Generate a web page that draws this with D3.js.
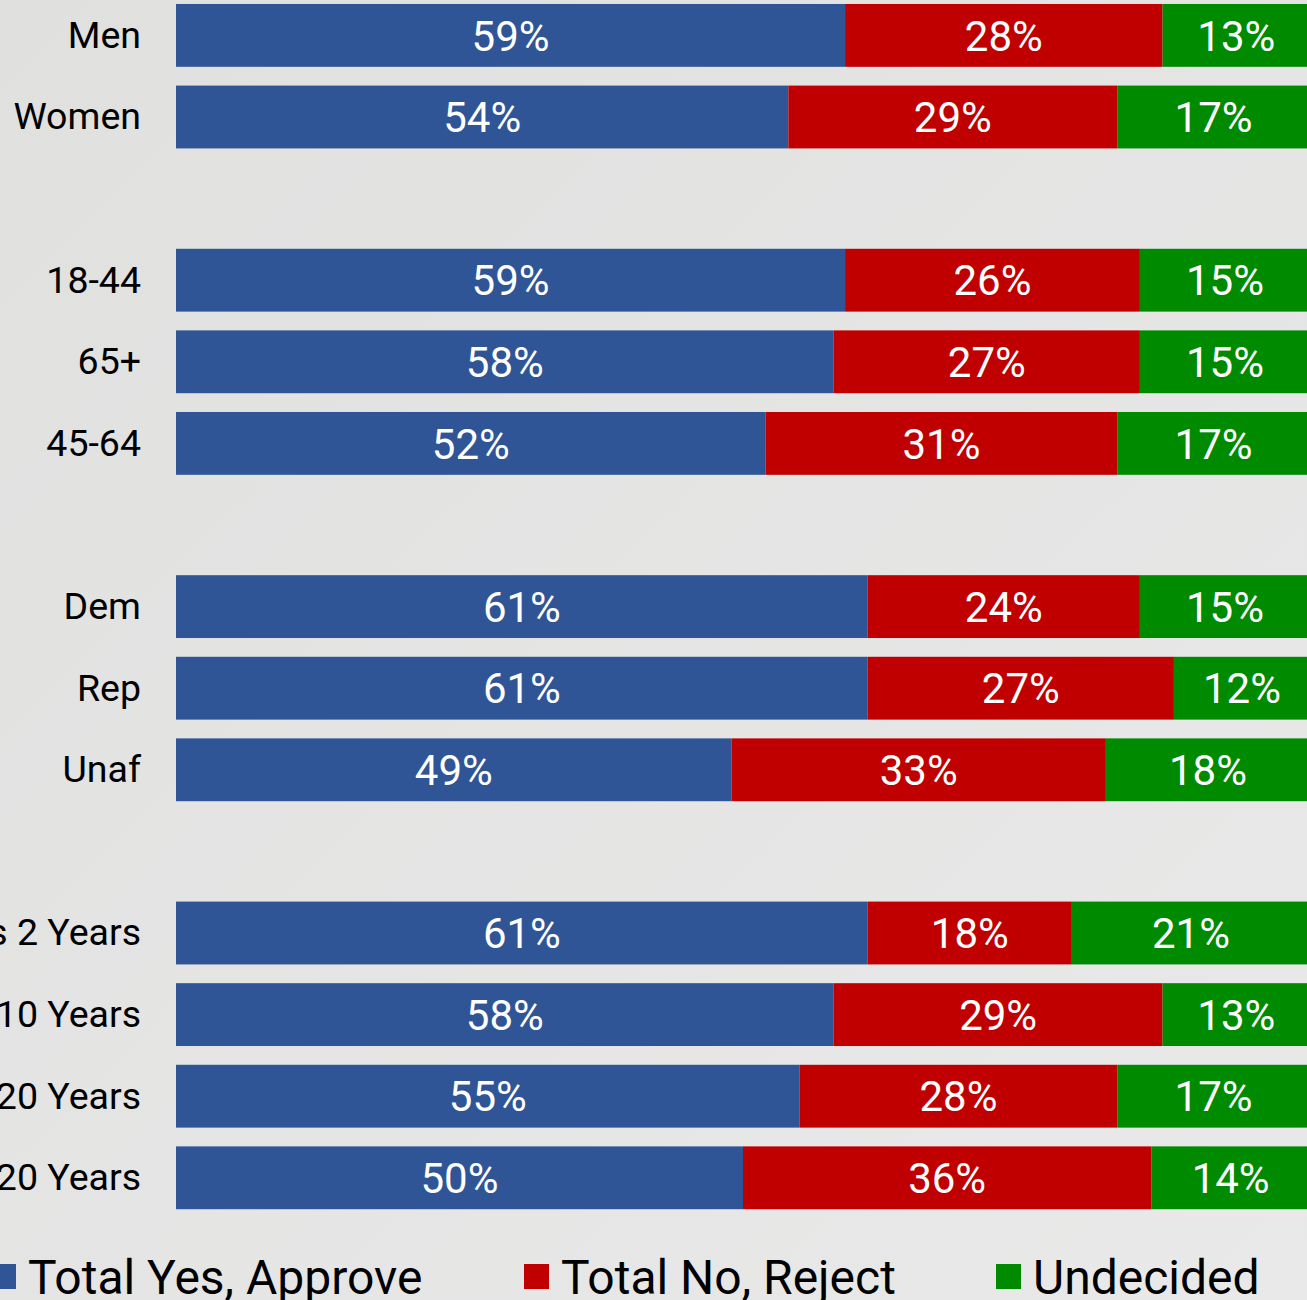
<!DOCTYPE html>
<html>
<head>
<meta charset="utf-8">
<script src="https://cdn.jsdelivr.net/npm/d3@7"></script>
<style>
  html, body { margin: 0; padding: 0; overflow: hidden; }
  body { width: 1307px; height: 1300px; }
</style>
</head>
<body>
<div id="chart"></div>
<script>
// rows (blank strings are spacer rows between groups)
const categories = ["Men", "Women", "",
  "18-44", "65+", "45-64", "",
  "Dem", "Rep", "Unaf", "",
  "Less 2 Years", "2 to 10 Years", "11 to 20 Years", "Over 20 Years"];
const yesVals = [59, 54, null, 59, 58, 52, null, 61, 61, 49, null, 61, 58, 55, 50];
const noVals  = [28, 29, null, 26, 27, 31, null, 24, 27, 33, null, 18, 29, 28, 36];
const undVals = [13, 17, null, 15, 15, 17, null, 15, 12, 18, null, 21, 13, 17, 14];
const seriesNames = ["Total Yes, Approve", "Total No, Reject", "Undecided"];
const seriesColors = ["#2F5597", "#C00000", "#008A00"];

const W = 1307, H = 1300;
const rowKeys = categories.map((c, i) => "r" + i);

const rows = categories.map((c, i) => ({
  key: rowKeys[i], label: c,
  yes: yesVals[i], no: noVals[i], und: undVals[i]
})).filter(d => d.yes != null);

const svg = d3.select("#chart").append("svg")
  .attr("width", W).attr("height", H);

// light gray background with a soft gradient
const defs = svg.append("defs");
const grad = defs.append("linearGradient").attr("id", "bg")
  .attr("x1", "0").attr("y1", "0").attr("x2", "1").attr("y2", "1");
grad.append("stop").attr("offset", "0%").attr("stop-color", "#e0e0df");
grad.append("stop").attr("offset", "100%").attr("stop-color", "#e9e9e9");
svg.append("rect").attr("width", W).attr("height", H).attr("fill", "url(#bg)");

const x = d3.scaleLinear().domain([0, 100]).range([176, 1310]);
const y = d3.scaleBand()
  .domain(rowKeys)
  .range([-5.4, 1218.6])
  .paddingInner(0.23)
  .paddingOuter(0.115);

const stacked = d3.stack().keys(["yes", "no", "und"])(rows);

const layers = svg.append("g").selectAll("g")
  .data(stacked)
  .enter().append("g")
    .attr("fill", (d, i) => seriesColors[i]);

layers.selectAll("rect")
  .data(d => d)
  .enter().append("rect")
    .attr("x", d => x(d[0]))
    .attr("y", d => y(d.data.key))
    .attr("width", d => x(d[1]) - x(d[0]))
    .attr("height", y.bandwidth());

// value labels inside segments
layers.selectAll("text")
  .data(d => d)
  .enter().append("text")
    .attr("x", d => (x(d[0]) + x(d[1])) / 2)
    .attr("y", d => y(d.data.key) + y.bandwidth() / 2)
    .attr("dy", "0.36em")
    .attr("text-anchor", "middle")
    .attr("fill", "#ffffff")
    .style("font-family", "Roboto, sans-serif")
    .style("font-size", "42px")
    .text(d => (d[1] - d[0]) + "%");

// category labels
svg.append("g").selectAll("text")
  .data(rows)
  .enter().append("text")
    .attr("x", 141)
    .attr("y", d => y(d.key) + y.bandwidth() / 2)
    .attr("dy", "0.33em")
    .attr("text-anchor", "end")
    .attr("fill", "#000")
    .style("font-family", "Roboto, sans-serif")
    .style("font-size", "37.5px")
    .text(d => d.label);

// legend
const legendX = [-9, 524, 996];
const legend = svg.append("g").selectAll("g")
  .data(seriesNames)
  .enter().append("g")
    .attr("transform", (d, i) => "translate(" + legendX[i] + ",1264)");
legend.append("rect")
  .attr("width", 25).attr("height", 25)
  .attr("fill", (d, i) => seriesColors[i]);
legend.append("text")
  .attr("x", 37).attr("y", 12.5)
  .attr("dy", "0.36em")
  .attr("fill", "#000")
  .style("font-family", "Roboto, sans-serif")
  .style("font-size", "48px")
  .text(d => d);
</script>
</body>
</html>
